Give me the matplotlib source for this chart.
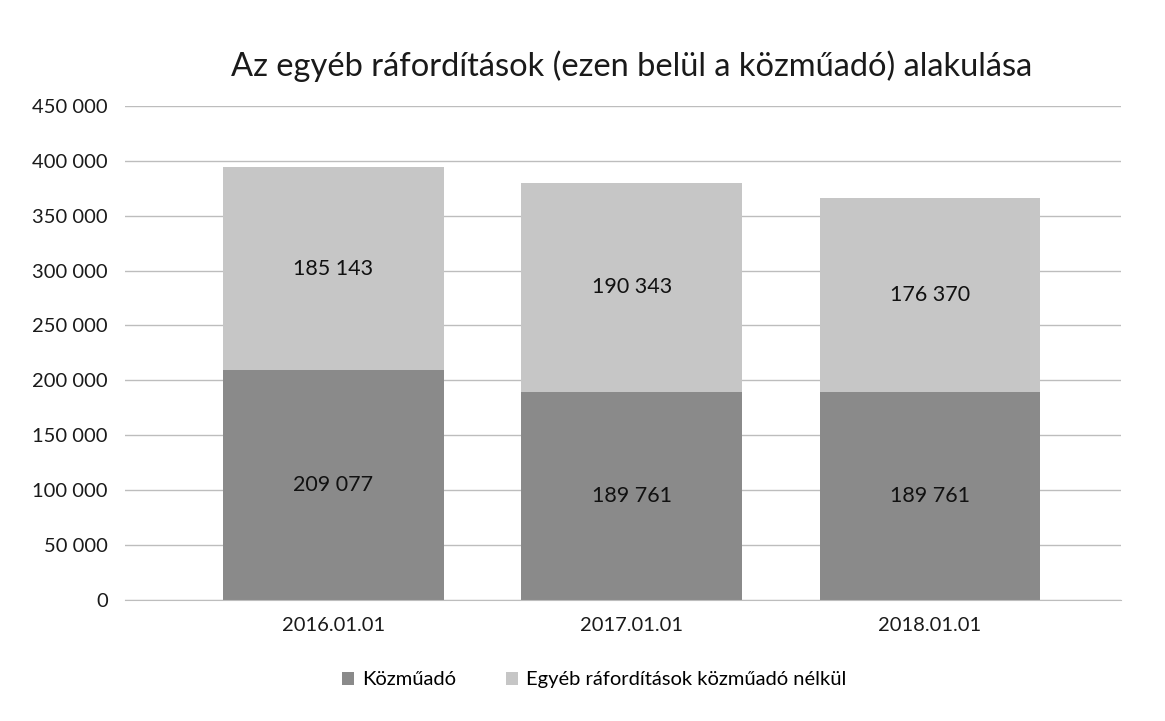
import numpy as np
import matplotlib.pyplot as plt

plt.rcParams["font.family"] = ["Lato", "DejaVu Sans"]

# chart data
dates = ["2016.01.01", "2017.01.01", "2018.01.01"]
kozmuado = [209077, 189761, 189761]
egyeb = [185143, 190343, 176370]
y_ticks = [0, 50000, 100000, 150000, 200000, 250000, 300000, 350000, 400000, 450000]


def fmt(v):
    return f"{v:,}".replace(",", " ")


fig = plt.figure(figsize=(11.65, 7.21), dpi=100)
ax = fig.add_axes([0.107, 0.168, 0.855, 0.685])

x = np.arange(len(dates))
w = 0.74
b1 = ax.bar(x, kozmuado, w, color="#8a8a8a", label="Közműadó", zorder=2)
b2 = ax.bar(x, egyeb, w, bottom=kozmuado, color="#c6c6c6",
            label="Egyéb ráfordítások közműadó nélkül", zorder=2)

for rect, v in zip(b1, kozmuado):
    ax.text(rect.get_x() + rect.get_width() / 2, rect.get_y() + v / 2, fmt(v),
            ha="center", va="center", fontsize=15.5, color="#111111")
for rect, base, v in zip(b2, kozmuado, egyeb):
    ax.text(rect.get_x() + rect.get_width() / 2, base + v / 2, fmt(v),
            ha="center", va="center", fontsize=15.5, color="#111111")

ax.set_xlim(-0.70, 2.64)
ax.set_ylim(0, 450000)
ax.set_yticks(y_ticks)
ax.set_yticklabels([fmt(t) for t in y_ticks], fontsize=14.5, color="#1a1a1a")
ax.set_xticks(x)
ax.set_xticklabels(dates, fontsize=14.5, color="#1a1a1a")
ax.tick_params(length=0, pad=12)
ax.yaxis.grid(True, color="#bdbdbd", linewidth=1, zorder=0)
for s in ["top", "right", "left"]:
    ax.spines[s].set_visible(False)
ax.spines["bottom"].set_color("#bdbdbd")

fig.suptitle("Az egyéb ráfordítások (ezen belül a közműadó) alakulása",
             fontsize=23.5, y=0.93, x=0.542, color="#1a1a1a")

fig.legend(loc="lower center", bbox_to_anchor=(0.51, 0.02), ncol=2, frameon=False,
           fontsize=14.5, handlelength=0.6, handleheight=0.6, columnspacing=2.5,
           handletextpad=0.4)

fig.savefig("out.png", dpi=100)
